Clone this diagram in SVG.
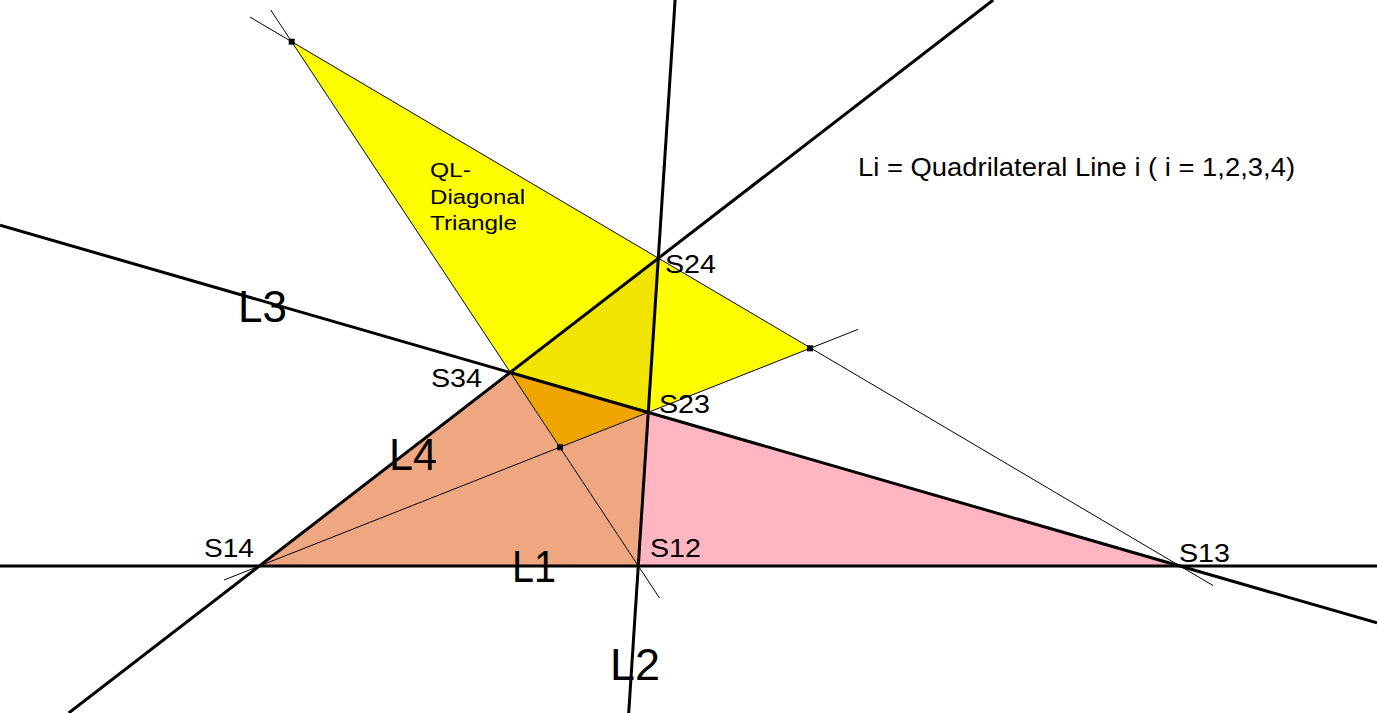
<svg xmlns="http://www.w3.org/2000/svg" width="1377" height="713" viewBox="0 0 1377 713">
<style>
.thick{stroke:#000;stroke-width:3;fill:none;stroke-linecap:butt}
.thin{stroke:#000;stroke-width:1;fill:none}
.pt{fill:#000}
.s{font-family:"Liberation Sans",Arial,sans-serif;font-size:25px;fill:#000}
.big{font-family:"Liberation Sans",Arial,sans-serif;font-size:45px;fill:#000}
.ql{font-family:"Liberation Sans",Arial,sans-serif;font-size:20.5px;fill:#000}
</style>
<rect width="1377" height="713" fill="#fff"/>
<g id="regions">
<polygon points="259.3,566 638.3,566 648.3,411.7 510.7,372.7" fill="#efa782"/>
<polygon points="638.3,566 1180,566 648.3,411.7" fill="#ffb6c1"/>
<polygon points="291.7,41.7 810,348.3 560,447.3" fill="#ffff00"/>
<polygon points="510.7,372.7 658.3,258.3 648.3,411.7" fill="#f0e400"/>
<polygon points="510.7,372.7 648.3,411.7 560,447.3" fill="#f0a500"/>
</g>
<g id="connectors">
<line class="thin" x1="250" y1="17.1" x2="1213" y2="585.5"/>
<line class="thin" x1="270.7" y1="10" x2="659.5" y2="598"/>
<line class="thin" x1="224" y1="580" x2="858" y2="329.4"/>
<line id="L1" class="thick" x1="0" y1="566" x2="1377" y2="566"/>
<line id="L2" class="thick" x1="675.1" y1="0" x2="628.7" y2="713"/>
<line id="L3" class="thick" x1="0" y1="225.2" x2="1377" y2="622.9"/>
<line id="L4" class="thick" x1="993.2" y1="0" x2="68.7" y2="713"/>
</g>
<g id="P-top"><rect class="pt" x="288.7" y="38.7" width="6" height="6"/></g>
<g id="P-right"><rect class="pt" x="807" y="345.3" width="6" height="6"/></g>
<g id="P-inner"><rect class="pt" x="557" y="444.3" width="6" height="6"/></g>
<g id="S14"><text class="s" x="204" y="557" textLength="50" lengthAdjust="spacingAndGlyphs">S14</text></g>
<g id="S12"><text class="s" x="650" y="557" textLength="51" lengthAdjust="spacingAndGlyphs">S12</text></g>
<g id="S13"><text class="s" x="1179" y="562" textLength="51" lengthAdjust="spacingAndGlyphs">S13</text></g>
<g id="S23"><text class="s" x="659" y="413" textLength="51" lengthAdjust="spacingAndGlyphs">S23</text></g>
<g id="S34"><text class="s" x="431" y="387" textLength="51" lengthAdjust="spacingAndGlyphs">S34</text></g>
<g id="S24"><text class="s" x="665" y="273" textLength="51" lengthAdjust="spacingAndGlyphs">S24</text></g>
<g id="labels">
<text class="big" x="512" y="582" textLength="44" lengthAdjust="spacingAndGlyphs">L1</text>
<text class="big" x="610" y="680" textLength="50" lengthAdjust="spacingAndGlyphs">L2</text>
<text class="big" x="238" y="322" textLength="49" lengthAdjust="spacingAndGlyphs">L3</text>
<text class="big" x="389" y="470" textLength="48" lengthAdjust="spacingAndGlyphs">L4</text>
<text class="ql" x="430" y="177" textLength="41" lengthAdjust="spacingAndGlyphs">QL-</text>
<text class="ql" x="430" y="204" textLength="95" lengthAdjust="spacingAndGlyphs">Diagonal</text>
<text class="ql" x="430" y="230" textLength="87" lengthAdjust="spacingAndGlyphs">Triangle</text>
<text class="s" x="858" y="176" textLength="437" lengthAdjust="spacingAndGlyphs">Li = Quadrilateral Line i ( i = 1,2,3,4)</text>
</g>
</svg>
